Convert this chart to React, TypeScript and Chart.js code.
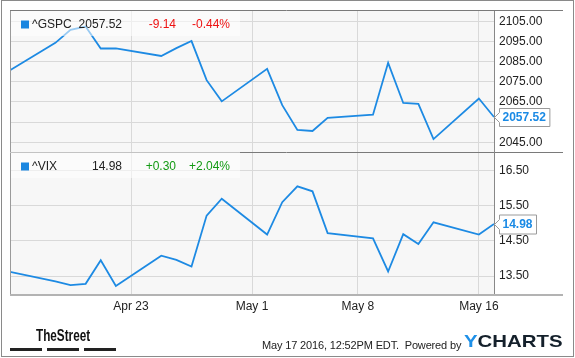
import React, { useEffect, useRef } from 'react';
import { Chart, registerables } from 'chart.js';

Chart.register(...registerables);

const FONT = '"Liberation Sans", Arial, Helvetica, sans-serif';

// ---- data ----
const dates = [
  '2016-04-15', '2016-04-18', '2016-04-19', '2016-04-20', '2016-04-21', '2016-04-22',
  '2016-04-25', '2016-04-26', '2016-04-27', '2016-04-28', '2016-04-29',
  '2016-05-02', '2016-05-03', '2016-05-04', '2016-05-05', '2016-05-06',
  '2016-05-09', '2016-05-10', '2016-05-11', '2016-05-12', '2016-05-13',
  '2016-05-16', '2016-05-17',
];
const gspcValues = [
  2080.7, 2094.3, 2100.8, 2102.4, 2091.5, 2091.6,
  2087.8, 2091.7, 2095.2, 2075.8, 2065.3,
  2081.4, 2063.4, 2051.1, 2050.6, 2057.1,
  2058.7, 2084.4, 2064.5, 2064.1, 2046.6,
  2066.7, 2057.52,
];
const vixValues = [
  13.62, 13.35, 13.24, 13.28, 13.95, 13.22,
  14.08, 13.96, 13.77, 15.22, 15.7,
  14.68, 15.6, 16.05, 15.91, 14.72,
  14.57, 13.63, 14.69, 14.41, 15.03,
  14.68, 14.98,
];
const xTickDates = ['2016-04-23', '2016-05-01', '2016-05-08', '2016-05-16'];
const xTickLabels = ['Apr 23', 'May 1', 'May 8', 'May 16'];
const gspcTicks = [2045, 2055, 2065, 2075, 2085, 2095, 2105];
const vixTicks = [13.5, 14.5, 15.5, 16.5];
const gspcRange = [2040.19, 2110.6];
const vixRange = [12.99, 17.0];
const gspcLegend = ['^GSPC', '2057.52', '-9.14', '-0.44%'];
const vixLegend = ['^VIX', '14.98', '+0.30', '+2.04%'];
const footerStamp = 'May 17 2016, 12:52PM EDT.  Powered by';

const LINE_BLUE = '#1d8ae3';

function toDay(s: string) {
  const [y, m, d] = s.split('-').map(Number);
  return Date.UTC(y, m - 1, d) / 86400000;
}

interface PanelOpts {
  values: number[];
  yTicks: number[];
  yRange: number[];
  legend: string[];
  changeColor: string;
  bottom: boolean;
}

function makeConfig(o: PanelOpts): any {
  const xMin = toDay(dates[0]);
  const xMax = toDay(dates[dates.length - 1]);
  const last = o.values[o.values.length - 1];
  const step = o.yTicks[1] - o.yTicks[0];

  const plugin = {
    id: 'panel',
    beforeDraw(chart: any) {
      const { ctx, chartArea: a } = chart;
      ctx.save();
      ctx.fillStyle = '#f7f7f7';
      ctx.fillRect(a.left, a.top, a.right - a.left, a.bottom - a.top);
      ctx.restore();
    },
    afterDatasetsDraw(chart: any) {
      const { ctx, chartArea: a } = chart;
      ctx.save();
      // legend box
      ctx.fillStyle = 'rgba(255,255,255,0.55)';
      const boxTop = o.bottom ? a.top - 1 : a.top;
      ctx.fillRect(a.left, boxTop, 230, 26);
      ctx.fillStyle = '#1a86e0';
      ctx.fillRect(a.left + 11, boxTop + 10.5, 8, 8);
      ctx.font = `12px ${FONT}`;
      ctx.textBaseline = 'alphabetic';
      const base = boxTop + 18;
      ctx.fillStyle = '#222';
      ctx.textAlign = 'left';
      ctx.fillText(o.legend[0], a.left + 22, base);
      ctx.textAlign = 'right';
      ctx.fillText(o.legend[1], a.left + 112, base);
      ctx.fillStyle = o.changeColor;
      ctx.fillText(o.legend[2], a.left + 166, base);
      ctx.fillText(o.legend[3], a.left + 220, base);
      ctx.restore();
    },
    afterDraw(chart: any) {
      const { ctx, chartArea: a } = chart;
      const ys = chart.scales.y;
      ctx.save();
      ctx.lineWidth = 1;
      // left frame
      ctx.strokeStyle = '#9a9a9a';
      ctx.beginPath();
      ctx.moveTo(a.left + 0.5, a.top);
      ctx.lineTo(a.left + 0.5, a.bottom);
      ctx.stroke();
      // right frame (axis line)
      ctx.strokeStyle = '#888';
      ctx.beginPath();
      ctx.moveTo(a.right + 0.5, a.top - (o.bottom ? 1 : 0));
      ctx.lineTo(a.right + 0.5, a.bottom);
      ctx.stroke();
      if (!o.bottom) {
        ctx.strokeStyle = '#7a7a7a';
        ctx.beginPath();
        ctx.moveTo(a.left, a.top + 0.5);
        ctx.lineTo(563, a.top + 0.5);
        ctx.moveTo(a.left, a.bottom + 0.5);
        ctx.lineTo(563, a.bottom + 0.5);
        ctx.stroke();
      } else {
        ctx.strokeStyle = '#b3b3b3';
        ctx.lineWidth = 2;
        ctx.beginPath();
        ctx.moveTo(a.left, a.bottom + 1);
        ctx.lineTo(563, a.bottom + 1);
        ctx.stroke();
      }
      // last value label
      const y = Math.round(ys.getPixelForValue(last)) + 0.5;
      const tip = a.right + 0.5;
      ctx.font = `bold 12px ${FONT}`;
      const tw = ctx.measureText(o.legend[1]).width;
      const bl = a.right + 5.5;
      const br = bl + tw + 7;
      const h = o.bottom ? 19 : 18;
      const bt = y - h / 2;
      const bb = y + h / 2;
      ctx.lineWidth = 1;
      ctx.beginPath();
      ctx.moveTo(bl, bt);
      ctx.lineTo(br, bt);
      ctx.lineTo(br, bb);
      ctx.lineTo(bl, bb);
      ctx.lineTo(bl, y + 5);
      ctx.lineTo(tip, y);
      ctx.lineTo(bl, y - 5);
      ctx.closePath();
      ctx.fillStyle = '#fff';
      ctx.fill();
      ctx.strokeStyle = '#9a9a9a';
      ctx.stroke();
      ctx.fillStyle = '#1a8ae5';
      ctx.textAlign = 'left';
      ctx.textBaseline = 'middle';
      ctx.fillText(o.legend[1], bl + 3, y + 0.5);
      ctx.restore();
    },
  };

  return {
    type: 'line',
    data: {
      datasets: [
        {
          data: dates.map((d, i) => ({ x: toDay(d), y: o.values[i] })),
          borderColor: LINE_BLUE,
          borderWidth: 1.8,
          pointRadius: 0,
          tension: 0,
          fill: false,
        },
      ],
    },
    options: {
      responsive: false,
      animation: false,
      events: [],
      layout: {
        padding: o.bottom
          ? { left: 10, top: 23, right: 0, bottom: 0 }
          : { left: 10, top: 10, right: 0, bottom: 23 },
      },
      plugins: { legend: { display: false }, tooltip: { enabled: false }, title: { display: false } },
      scales: {
        x: {
          type: 'linear',
          min: xMin,
          max: xMax,
          afterBuildTicks: (s: any) => {
            s.ticks = xTickDates.map((d) => ({ value: toDay(d) }));
          },
          afterFit: (s: any) => {
            s.height = o.bottom ? 46 : 0;
            s.paddingLeft = 0;
            s.paddingRight = 0;
          },
          ticks: {
            display: o.bottom,
            autoSkip: false,
            maxRotation: 0,
            padding: 5,
            color: '#222',
            font: { family: FONT, size: 12 },
            callback: (_v: any, i: number) => xTickLabels[i],
          },
          grid: { color: '#d9d9d9', lineWidth: 1, drawTicks: false },
          border: { display: false },
        },
        y: {
          type: 'linear',
          position: 'right',
          min: o.yRange[0],
          max: o.yRange[1],
          afterBuildTicks: (s: any) => {
            s.ticks = o.yTicks.map((v) => ({ value: v }));
          },
          afterFit: (s: any) => {
            s.width = 81;
            s.paddingTop = 0;
            s.paddingBottom = 0;
          },
          ticks: {
            padding: 5,
            color: '#222',
            font: { family: FONT, size: 12 },
            callback: (v: any) => (Math.abs(v - last) < step * 0.4 ? '' : Number(v).toFixed(2)),
          },
          grid: { color: '#d9d9d9', lineWidth: 1, drawTicks: false },
          border: { display: false },
        },
      },
    },
    plugins: [plugin],
  };
}

function Panel(props: { opts: PanelOpts; top: number; height: number }) {
  const ref = useRef<HTMLCanvasElement | null>(null);
  useEffect(() => {
    if (!ref.current) return;
    const chart = new Chart(ref.current, makeConfig(props.opts));
    return () => chart.destroy();
  }, []);
  return (
    <canvas
      ref={ref}
      width={575}
      height={props.height}
      style={{ position: 'absolute', left: 0, top: props.top, width: 575, height: props.height }}
    />
  );
}

export default function App() {
  return (
    <div
      style={{
        position: 'absolute',
        left: 0,
        top: 0,
        width: 575,
        height: 358,
        background: '#fff',
        overflow: 'hidden',
        fontFamily: FONT,
      }}
    >
      <div
        style={{
          position: 'absolute',
          left: 1,
          top: 0,
          width: 573,
          height: 357,
          boxSizing: 'border-box',
          border: '1px solid #8a8a8a',
        }}
      />
      <Panel
        top={0}
        height={175}
        opts={{ values: gspcValues, yTicks: gspcTicks, yRange: gspcRange, legend: gspcLegend, changeColor: '#ee1111', bottom: false }}
      />
      <Panel
        top={130}
        height={210}
        opts={{ values: vixValues, yTicks: vixTicks, yRange: vixRange, legend: vixLegend, changeColor: '#139a13', bottom: true }}
      />
      <div
        style={{
          position: 'absolute',
          left: 36,
          top: 327,
          fontSize: 17,
          lineHeight: '17px',
          fontWeight: 'bold',
          color: '#111',
          transform: 'scaleX(0.69)',
          transformOrigin: 'left top',
          whiteSpace: 'nowrap',
        }}
      >
        TheStreet
      </div>
      {[10, 47, 84].map((x) => (
        <div key={x} style={{ position: 'absolute', left: x, top: 348, width: 32, height: 3, background: '#222' }} />
      ))}
      <div
        style={{
          position: 'absolute',
          left: 262,
          top: 339,
          fontSize: 11,
          lineHeight: '12px',
          letterSpacing: '-0.15px',
          color: '#222',
          whiteSpace: 'pre',
        }}
      >
        {footerStamp}
      </div>
      <div
        style={{
          position: 'absolute',
          left: 464,
          top: 333,
          fontSize: 17,
          lineHeight: '17px',
          fontWeight: 'bold',
          color: '#14202b',
          transform: 'scaleX(1.2)',
          transformOrigin: 'left top',
          whiteSpace: 'nowrap',
        }}
      >
        <span style={{ color: '#1e90e8' }}>Y</span>CHARTS
      </div>
    </div>
  );
}
